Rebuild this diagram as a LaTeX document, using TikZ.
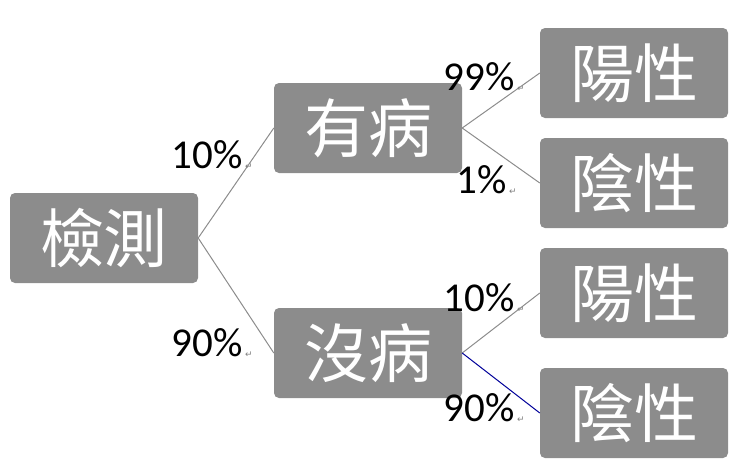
\documentclass[tikz,border=0pt]{standalone}
\usepackage{fontspec}
\setmainfont{Carlito}
\newfontfamily\cjk{Noto Sans CJK TC}
\newfontfamily\djfont{DejaVu Sans}
\begin{document}
\begin{tikzpicture}[x=1pt,y=-1pt,
 box/.style={fill=black!45,rounded corners=5pt,minimum width=188pt,minimum height=90pt,text=white,font=\cjk\fontsize{64}{64}\selectfont,inner sep=0pt},
 pct/.style={font=\fontsize{41}{41}\selectfont,inner sep=0pt},
 ln/.style={draw=black!45,line width=1pt}]
\useasboundingbox (0,0) rectangle (740,475);
\node[box] (a) at (104,238) {檢測};
\node[box] (b) at (368,128) {有病};
\node[box] (c) at (368,353) {沒病};
\node[box] (d) at (634,73) {陽性};
\node[box] (e) at (634,183) {陰性};
\node[box] (f) at (634,293) {陽性};
\node[box] (g) at (634,413) {陰性};
\draw[ln] (a.east) -- (b.west);
\draw[ln] (a.east) -- (c.west);
\draw[ln] (b.east) -- (d.west);
\draw[ln] (b.east) -- (e.west);
\draw[ln] (c.east) -- (f.west);
\draw[draw=blue!60!black,line width=1pt] (c.east) -- (g.west);
\node[pct,anchor=east] (p1) at (243,155) {10\%};
\node[pct,anchor=east] (p2) at (243,343) {90\%};
\node[pct,anchor=east] (p3) at (515,77) {99\%};
\node[pct,anchor=east] (p4) at (507,180) {1\%};
\node[pct,anchor=east] (p5) at (515,298) {10\%};
\node[pct,anchor=east] (p6) at (515,408) {90\%};
\foreach \p in {p1,p2,p3,p4,p5,p6}
 \node[anchor=south west,inner sep=0pt,text=black!50,font=\djfont\fontsize{9}{9}\selectfont] at ([xshift=2pt]\p.south east) {↵};
\end{tikzpicture}
\end{document}
